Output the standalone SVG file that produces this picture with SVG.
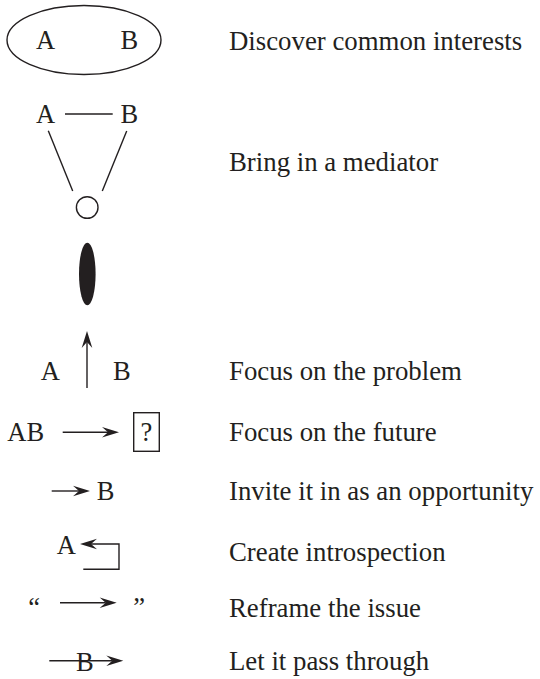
<svg xmlns="http://www.w3.org/2000/svg" width="540" height="679" viewBox="0 0 540 679">
<style>
text{font-family:"Liberation Serif","Times New Roman",serif;font-size:26.5px;fill:#231f20}
#labels text{font-size:26.8px}
.ln{stroke:#231f20;stroke-width:1.4;fill:none}
</style>
<defs>
<marker id="ah" viewBox="-18 -7 20 14" markerWidth="20" markerHeight="14" refX="-11" refY="0" orient="auto" markerUnits="userSpaceOnUse">
<path d="M0,0 L-17,-5.3 L-11,0 L-17,5.3 Z" fill="#231f20"/>
</marker>
</defs>
<rect width="540" height="679" fill="#fff"/>
<g id="common">
<ellipse class="ln" cx="84" cy="40" rx="77" ry="34.5"/>
<text x="36" y="49">A</text>
<text x="120.5" y="49">B</text>
</g>
<g id="mediator">
<text x="36" y="123">A</text>
<text x="120.5" y="123">B</text>
<circle class="ln" cx="87.2" cy="207.5" r="10.8"/>
</g>
<g id="blob">
<ellipse cx="87.3" cy="274" rx="8.3" ry="31.3" fill="#231f20"/>
</g>
<g id="problem">
<text x="40.7" y="380">A</text>
<text x="113" y="380">B</text>
</g>
<g id="future">
<text x="7.3" y="441">AB</text>
<rect class="ln" x="133.7" y="412.7" width="25.6" height="38.6"/>
<text x="146.5" y="441" text-anchor="middle">?</text>
</g>
<g id="opportunity">
<text x="96.7" y="500">B</text>
</g>
<g id="introspection">
<text x="56.7" y="554">A</text>
</g>
<g id="reframe">
<text x="28.3" y="616">“</text>
<text x="133.3" y="616">”</text>
</g>
<g id="passthrough">
<text x="76" y="671">B</text>
</g>
<g id="connectors">
<line class="ln" x1="65" y1="114" x2="112.7" y2="114"/>
<line class="ln" x1="48.3" y1="130.7" x2="72.7" y2="191"/>
<line class="ln" x1="126.7" y1="131" x2="102.3" y2="191"/>
<line class="ln" x1="87" y1="388" x2="87" y2="342" marker-end="url(#ah)"/>
<line class="ln" x1="62.7" y1="432.3" x2="108" y2="432.3" marker-end="url(#ah)"/>
<line class="ln" x1="51.7" y1="491" x2="79" y2="491" marker-end="url(#ah)"/>
<path class="ln" d="M83.3,569.3 H119 V544 H91" marker-end="url(#ah)"/>
<line class="ln" x1="60" y1="602.7" x2="105.7" y2="602.7" marker-end="url(#ah)"/>
<line class="ln" x1="49.3" y1="660.7" x2="112.3" y2="660.7" marker-end="url(#ah)"/>
</g>
<g id="labels">
<text x="229" y="50">Discover common interests</text>
<text x="229" y="171">Bring in a mediator</text>
<text x="229" y="380">Focus on the problem</text>
<text x="229" y="441">Focus on the future</text>
<text x="229" y="500">Invite it in as an opportunity</text>
<text x="229" y="561">Create introspection</text>
<text x="229" y="617">Reframe the issue</text>
<text x="229" y="670">Let it pass through</text>
</g>
</svg>
